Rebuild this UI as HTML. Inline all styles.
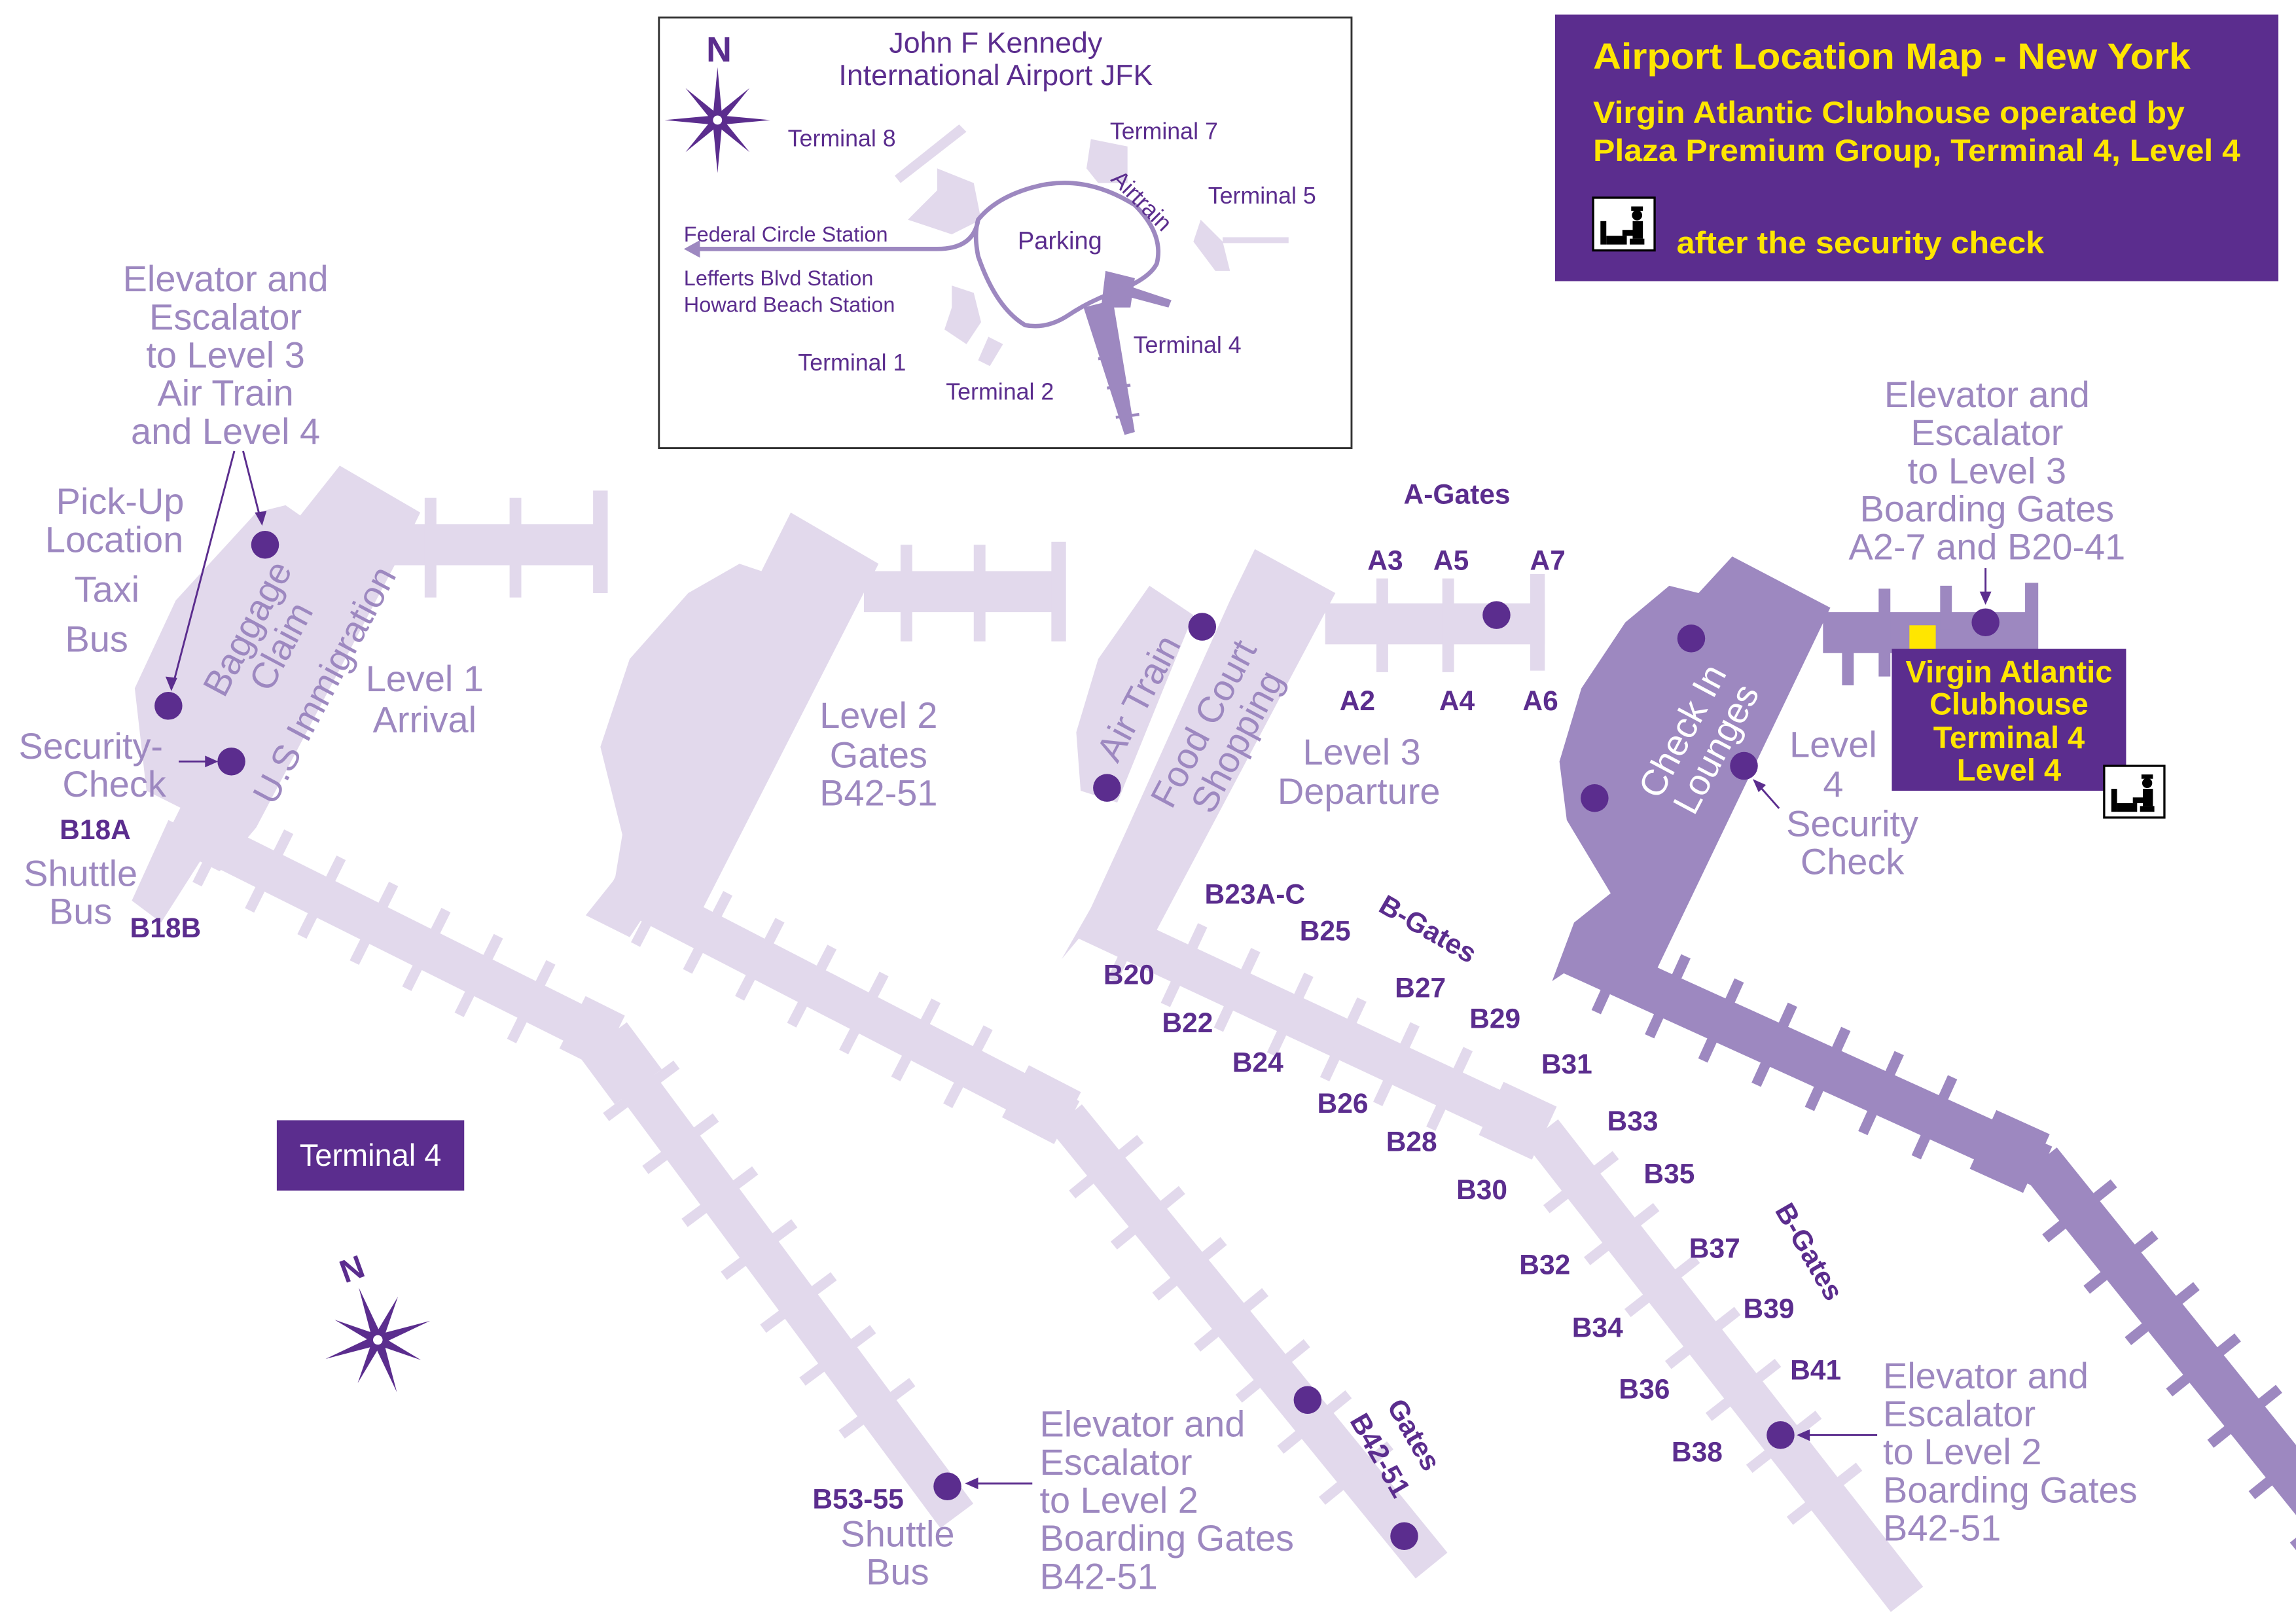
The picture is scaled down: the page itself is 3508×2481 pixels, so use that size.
<!DOCTYPE html>
<html><head><meta charset="utf-8"><style>
html,body{margin:0;padding:0;background:#fff;}
svg{display:block;}
text{font-family:"Liberation Sans",Arial,sans-serif;}
.l{fill:#9d88c0;font-size:25px;}
.d{fill:#5b2d8e;font-size:19px;font-weight:bold;}
.y{fill:#ffe600;font-weight:bold;}
.i{fill:#5b2d8e;font-size:16px;}
</style></head><body>
<svg width="3508" height="2481" viewBox="0 0 1568 1109" xmlns="http://www.w3.org/2000/svg">
<defs>
<g id="star">
<polygon points="0,-38 3,-6 0,0 -3,-6" fill="#5b2d8e"/>
<polygon points="0,38 3,6 0,0 -3,6" fill="#5b2d8e"/>
<polygon points="-38,0 -6,-3 0,0 -6,3" fill="#5b2d8e"/>
<polygon points="38,0 6,-3 0,0 6,3" fill="#5b2d8e"/>
<polygon points="-23,-23 -2,-6 0,0 -6,-2" fill="#5b2d8e"/>
<polygon points="23,-23 2,-6 0,0 6,-2" fill="#5b2d8e"/>
<polygon points="-23,23 -2,6 0,0 -6,2" fill="#5b2d8e"/>
<polygon points="23,23 2,6 0,0 6,2" fill="#5b2d8e"/>
<circle r="4" fill="#fff" stroke="#5b2d8e" stroke-width="1.5"/>
</g>
<g id="icon">
<rect x="0" y="0" width="42" height="36" fill="#fff" stroke="#000" stroke-width="1.5"/>
<rect x="5" y="16" width="4" height="16" fill="#000"/>
<rect x="9" y="26" width="14" height="6" fill="#000"/>
<rect x="25" y="28" width="10" height="4" fill="#000"/>
<rect x="26" y="6" width="8" height="3" fill="#000"/>
<circle cx="30" cy="12" r="3.5" fill="#000"/>
<rect x="27" y="16" width="7" height="12" fill="#000"/>
<rect x="20" y="22" width="9" height="4" fill="#000"/>
</g>
<g id="stubsA">
<rect x="30" y="-30" width="7" height="60"/><rect x="70" y="-30" width="7" height="60"/><rect x="110" y="-30" width="7" height="60"/><rect x="150" y="-30" width="7" height="60"/><rect x="190" y="-30" width="7" height="60"/><rect x="230" y="-30" width="7" height="60"/><rect x="270" y="-30" width="7" height="60"/>
</g>
<g id="stubsB">
<rect x="40" y="-30" width="7" height="60"/><rect x="85" y="-30" width="7" height="60"/><rect x="130" y="-30" width="7" height="60"/><rect x="175" y="-30" width="7" height="60"/><rect x="220" y="-30" width="7" height="60"/><rect x="265" y="-30" width="7" height="60"/><rect x="310" y="-30" width="7" height="60"/>
</g>
</defs>

<!-- ===== PIER 1 (light) ===== -->
<g fill="#e2d9ec">
<g transform="translate(118,562) rotate(26.5)">
<rect x="0" y="-14" width="335" height="28"/><use href="#stubsA"/><rect x="305" y="-20" width="30" height="40"/>
</g>
<g transform="translate(412,710) rotate(53.4)">
<rect x="0" y="-14" width="405" height="28"/><use href="#stubsB"/><rect x="0" y="-20" width="40" height="40"/>
</g>
<polygon points="232,318 287,350 270,385 175,565 150,595 120,580 130,555 100,540 92,470 120,410 175,350 195,345 205,352"/>
<polygon points="115,560 145,575 110,630 90,615"/>
<rect x="268" y="358" width="145" height="28"/>
<rect x="290" y="340" width="8" height="68"/><rect x="348" y="340" width="8" height="68"/><rect x="405" y="335" width="10" height="70"/>
</g>

<!-- ===== PIER 2 (light) ===== -->
<g fill="#e2d9ec">
<g transform="translate(418,603) rotate(27.3)">
<rect x="0" y="-14" width="352" height="28"/><use href="#stubsA"/><rect x="310" y="-20" width="40" height="40"/>
</g>
<g transform="translate(728,763) rotate(50.8)">
<rect x="0" y="-14" width="395" height="28"/><use href="#stubsB"/>
</g>
<polygon points="540,350 600,385 470,640 440,625 430,640 400,625 420,600 425,570 410,510 430,450 470,405 505,385 520,390"/>
<rect x="590" y="390" width="135" height="28"/>
<rect x="615" y="372" width="8" height="66"/><rect x="665" y="372" width="8" height="66"/><rect x="718" y="370" width="10" height="68"/>
</g>

<!-- ===== PIER 3 (light) ===== -->
<g fill="#e2d9ec">
<g transform="translate(742,628) rotate(25)">
<rect x="0" y="-14" width="345" height="28"/><use href="#stubsA"/><rect x="305" y="-20" width="40" height="40"/>
</g>
<g transform="translate(1053,773) rotate(52)">
<rect x="0" y="-14" width="405" height="28"/><use href="#stubsB"/>
</g>
<polygon points="857,375 912,405 790,635 750,625 725,655 745,620 768,570 840,410"/>
<polygon points="785,400 815,420 763,548 738,540 735,500 750,450"/>
<rect x="905" y="412" width="150" height="28"/>
<rect x="940" y="395" width="8" height="64"/><rect x="985" y="395" width="8" height="64"/><rect x="1045" y="392" width="10" height="66"/>
</g>

<!-- ===== PIER 4 (dark) ===== -->
<g fill="#9d88c0">
<g transform="translate(1072,650) rotate(24.4)">
<rect x="0" y="-15" width="355" height="30"/><use href="#stubsA"/><rect x="310" y="-22" width="40" height="44"/>
</g>
<g transform="translate(1393,793) rotate(51.2)">
<rect x="0" y="-15" width="330" height="30"/><use href="#stubsB"/>
</g>
<polygon points="1183,380 1250,415 1130,665 1090,650 1060,670 1075,630 1100,610 1070,560 1065,520 1080,470 1110,425 1140,400 1160,405"/>
<rect x="1245" y="418" width="145" height="28"/>
<rect x="1283" y="402" width="8" height="60"/><rect x="1325" y="400" width="8" height="30"/><rect x="1383" y="398" width="9" height="48"/><rect x="1258" y="440" width="8" height="28"/>
</g>
<rect x="1304" y="427" width="18" height="16" fill="#ffe600"/>

<!-- dots -->
<g fill="#5b2d8e">
<circle cx="181" cy="372" r="9.5"/><circle cx="115" cy="482" r="9.5"/><circle cx="158" cy="520" r="9.5"/>
<circle cx="821" cy="428" r="9.5"/><circle cx="756" cy="538" r="9.5"/><circle cx="1022" cy="420" r="9.5"/>
<circle cx="1155" cy="436" r="9.5"/><circle cx="1089" cy="545" r="9.5"/><circle cx="1191" cy="523" r="9.5"/>
<circle cx="1356" cy="425" r="9.5"/><circle cx="893" cy="956" r="9.5"/><circle cx="647" cy="1015" r="9.5"/>
<circle cx="959" cy="1049" r="9.5"/><circle cx="1216" cy="980" r="9.5"/>
</g>

<!-- arrows -->
<g stroke="#5b2d8e" stroke-width="1.3" fill="none">
<line x1="160" y1="308" x2="118" y2="468"/>
<line x1="166" y1="308" x2="178" y2="355"/>
<line x1="122" y1="520" x2="146" y2="520"/>
<line x1="1356" y1="388" x2="1356" y2="410"/>
<line x1="1215" y1="552" x2="1200" y2="535"/>
<line x1="705" y1="1013" x2="662" y2="1013"/>
<line x1="1282" y1="980" x2="1230" y2="980"/>
</g>
<g fill="#5b2d8e">
<polygon points="117,472 113,462 121,463"/>
<polygon points="179,359 174,350 182,349"/>
<polygon points="149,520 140,516 140,524"/>
<polygon points="1356,413 1352,404 1360,404"/>
<polygon points="1197,532 1206,536 1201,541"/>
<polygon points="659,1013 668,1009 668,1017"/>
<polygon points="1227,980 1236,976 1236,984"/>
</g>

<!-- light labels -->
<g class="l" text-anchor="middle">
<text x="154" y="199">Elevator and</text><text x="154" y="225">Escalator</text><text x="154" y="251">to Level 3</text><text x="154" y="277">Air Train</text><text x="154" y="303">and Level 4</text>
<text x="82" y="351">Pick-Up</text><text x="78" y="377">Location</text><text x="73" y="411">Taxi</text><text x="66" y="445">Bus</text>
<text x="62" y="518">Security-</text><text x="78" y="544">Check</text>
<text x="55" y="605">Shuttle</text><text x="55" y="631">Bus</text>
<text x="290" y="472">Level 1</text><text x="290" y="500">Arrival</text>
<text x="600" y="497">Level 2</text><text x="600" y="524">Gates</text><text x="600" y="550">B42-51</text>
<text x="930" y="522">Level 3</text><text x="928" y="549">Departure</text>
<text x="1252" y="517">Level</text><text x="1252" y="544">4</text><text x="1265" y="571">Security</text><text x="1265" y="597">Check</text>
<text x="1357" y="278">Elevator and</text><text x="1357" y="304">Escalator</text><text x="1357" y="330">to Level 3</text><text x="1357" y="356">Boarding Gates</text><text x="1357" y="382">A2-7 and B20-41</text>
<text x="613" y="1056">Shuttle</text><text x="613" y="1082">Bus</text>
</g>
<g class="l">
<text x="710" y="981">Elevator and</text><text x="710" y="1007">Escalator</text><text x="710" y="1033">to Level 2</text><text x="710" y="1059">Boarding Gates</text><text x="710" y="1085">B42-51</text>
<text x="1286" y="948">Elevator and</text><text x="1286" y="974">Escalator</text><text x="1286" y="1000">to Level 2</text><text x="1286" y="1026">Boarding Gates</text><text x="1286" y="1052">B42-51</text>
</g>
<g class="l" text-anchor="middle">
<g transform="translate(180,435) rotate(-62)"><text x="0" y="-4">Baggage</text><text x="0" y="22">Claim</text></g>
<g transform="translate(222,468) rotate(-62)"><text x="0" y="8">U.S Immigration</text></g>
<g transform="translate(778,477) rotate(-62)"><text x="0" y="8">Air Train</text></g>
<g transform="translate(833,500) rotate(-62)"><text x="0" y="-4">Food Court</text><text x="0" y="22">Shopping</text></g>
<g transform="translate(1160,505) rotate(-62)"><text x="0" y="-4" fill="#fff">Check In</text><text x="0" y="22" fill="#fff">Lounges</text></g>
</g>

<!-- dark labels -->
<g class="d" text-anchor="middle">
<text x="65" y="573">B18A</text><text x="113" y="640">B18B</text>
<text x="995" y="344">A-Gates</text>
<text x="946" y="389">A3</text><text x="991" y="389">A5</text><text x="1057" y="389">A7</text>
<text x="927" y="485">A2</text><text x="995" y="485">A4</text><text x="1052" y="485">A6</text>
<text x="857" y="617">B23A-C</text><text x="905" y="642">B25</text>
<text x="771" y="672">B20</text><text x="970" y="681">B27</text><text x="811" y="705">B22</text><text x="1021" y="702">B29</text>
<text x="859" y="732">B24</text><text x="1070" y="733">B31</text><text x="917" y="760">B26</text><text x="964" y="786">B28</text>
<text x="1115" y="772">B33</text><text x="1140" y="808">B35</text><text x="1012" y="819">B30</text><text x="1171" y="859">B37</text>
<text x="1055" y="870">B32</text><text x="1208" y="900">B39</text><text x="1091" y="913">B34</text><text x="1240" y="942">B41</text>
<text x="1123" y="955">B36</text><text x="1159" y="998">B38</text><text x="586" y="1030">B53-55</text>
<g transform="translate(972,640) rotate(30)"><text>B-Gates</text></g>
<g transform="translate(1230,858) rotate(60)"><text>B-Gates</text></g>
<g transform="translate(960,983) rotate(60)"><text>Gates</text></g>
<g transform="translate(937,997) rotate(60)"><text>B42-51</text></g>
</g>

<rect x="189" y="765" width="128" height="48" fill="#5b2d8e"/>
<text x="253" y="796" text-anchor="middle" fill="#fff" font-size="21">Terminal 4</text>

<g transform="translate(258,915) rotate(-20)">
<use href="#star"/>
<text x="0" y="-44" text-anchor="middle" fill="#5b2d8e" font-size="22" font-weight="bold">N</text>
</g>

<rect x="1292" y="443" width="160" height="97" fill="#5b2d8e"/>
<g class="y" text-anchor="middle" font-size="21">
<text x="1372" y="466">Virgin Atlantic</text>
<text x="1372" y="488">Clubhouse</text>
<text x="1372" y="511">Terminal 4</text>
<text x="1372" y="533">Level 4</text>
</g>
<use href="#icon" transform="translate(1437,523) scale(0.98)"/>

<rect x="1062" y="10" width="494" height="182" fill="#5b2d8e"/>
<text class="y" x="1088" y="47" font-size="25" textLength="408" lengthAdjust="spacingAndGlyphs">Airport Location Map - New York</text>
<text class="y" x="1088" y="84" font-size="21" textLength="404" lengthAdjust="spacingAndGlyphs">Virgin Atlantic Clubhouse operated by</text>
<text class="y" x="1088" y="110" font-size="21" textLength="442" lengthAdjust="spacingAndGlyphs">Plaza Premium Group, Terminal 4, Level 4</text>
<use href="#icon" transform="translate(1088,135)"/>
<text class="y" x="1145" y="173" font-size="21" textLength="251" lengthAdjust="spacingAndGlyphs">after the security check</text>

<!-- Inset map -->
<rect x="450" y="12" width="473" height="294" fill="#fff" stroke="#333" stroke-width="1.3"/>
<g fill="#e2d9ec">
<polygon points="655,85 660,90 615,125 611,120"/>
<polygon points="640,115 665,125 670,150 650,160 620,150 640,130"/>
<polygon points="745,95 770,100 770,125 750,125 742,115"/>
<polygon points="820,150 835,165 840,185 830,185 815,165"/>
<rect x="835" y="162" width="45" height="4"/>
<polygon points="650,195 665,200 670,220 660,235 645,225 650,210"/>
<polygon points="675,230 685,235 676,250 668,246"/>
</g>
<g fill="#9d88c0">
<polygon points="755,185 775,190 772,210 752,210"/>
<polygon points="770,195 800,205 798,210 768,202"/>
<polygon points="740,210 760,205 775,295 768,297"/>
</g>
<g stroke="#9d88c0" stroke-width="2" fill="none">
<line x1="745" y1="225" x2="760" y2="223"/><line x1="750" y1="245" x2="765" y2="243"/><line x1="756" y1="265" x2="772" y2="263"/><line x1="762" y1="285" x2="778" y2="283"/>
</g>
<path d="M474,170 L640,170 Q665,170 668,150 Q680,135 705,128 Q740,118 775,140 Q795,160 790,180 Q785,190 765,198 Q745,205 730,215 Q715,225 700,222 Q680,210 668,175 Q665,160 668,150" fill="none" stroke="#9d88c0" stroke-width="3"/>
<polygon points="467,170 478,164 478,176" fill="#9d88c0"/>
<g transform="translate(490,82) scale(0.95)"><use href="#star"/></g>
<text x="491" y="42" text-anchor="middle" fill="#5b2d8e" font-size="24" font-weight="bold">N</text>
<text x="680" y="36" text-anchor="middle" fill="#5b2d8e" font-size="20">John F Kennedy</text>
<text x="680" y="58" text-anchor="middle" fill="#5b2d8e" font-size="20">International Airport JFK</text>
<g class="i">
<text x="538" y="100">Terminal 8</text>
<text x="758" y="95">Terminal 7</text>
<text x="825" y="139">Terminal 5</text>
<text x="467" y="165" font-size="14.5">Federal Circle Station</text>
<text x="467" y="195" font-size="14.5">Lefferts Blvd Station</text>
<text x="467" y="213" font-size="14.5">Howard Beach Station</text>
<text x="545" y="253">Terminal 1</text>
<text x="646" y="273">Terminal 2</text>
<text x="774" y="241">Terminal 4</text>
<text x="695" y="170" font-size="17">Parking</text>
<g transform="translate(758,123) rotate(45)"><text>Airtrain</text></g>
</g>
</svg>
</body></html>
